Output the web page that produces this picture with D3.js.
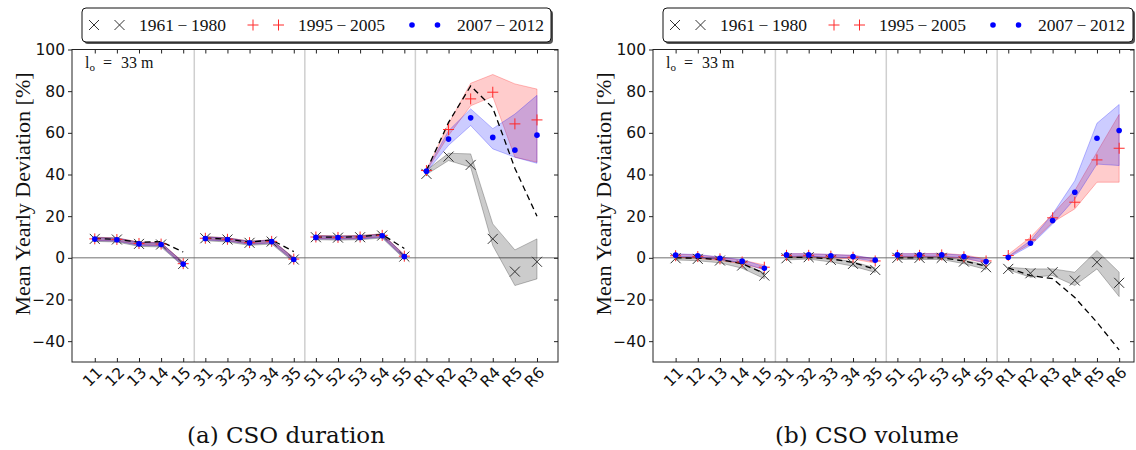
<!DOCTYPE html>
<html>
<head>
<meta charset="utf-8">
<script src="https://cdn.jsdelivr.net/npm/d3@7"></script>
<style>
  body { margin: 0; background: #fff; }
  svg { display: block; }
</style>
</head>
<body>
<script>
// Catchment labels along the x axis, split into four groups
const categories = ["11","12","13","14","15","31","32","33","34","35",
                    "51","52","53","54","55","R1","R2","R3","R4","R5","R6"];
const groupSizes = [5, 5, 5, 6];
const yTicks = [-40, -20, 0, 20, 40, 60, 80, 100];
const seriesNames = ["1961\u2009\u2212\u20091980", "1995\u2009\u2212\u20092005", "2007\u2009\u2212\u20092012"];

// (a) CSO duration, mean yearly deviation [%]
const dur1961   = [9.1, 8.8, 6.7, 6.4, -2.9, 9.4, 8.8, 7.2, 7.8, -0.8, 9.9, 9.7, 9.9, 10.7, 0.6, 40.3, 48.6, 44.6, 9.1, -6.6, -1.9];
const dur1961Lo = [7.9, 7.6, 5.5, 5.2, -4.1, 8.2, 7.6, 6.0, 6.6, -2.0, 8.7, 8.5, 8.7, 9.5, -0.6, 40.0, 46.7, 43.5, 5.9, -13.3, -10.1];
const dur1961Hi = [9.9, 9.6, 7.5, 7.2, -2.1, 10.2, 9.6, 8.0, 8.6, 0.0, 10.7, 10.5, 10.7, 11.5, 1.4, 42.0, 50.2, 49.9, 16.3, 3.8, 9.1];
const dur1995   = [9.1, 8.8, 6.9, 6.6, -2.8, 9.4, 8.9, 7.3, 7.9, -0.6, 10.0, 9.8, 10.0, 10.8, 0.8, 41.9, 61.6, 76.3, 79.5, 64.3, 66.2];
const dur1995Lo = [8.4, 8.1, 6.2, 5.9, -3.5, 8.7, 8.2, 6.6, 7.2, -1.3, 9.3, 9.1, 9.3, 10.1, 0.1, 41.6, 58.7, 73.0, 77.4, 48.3, 45.9];
const dur1995Hi = [9.8, 9.5, 7.6, 7.3, -2.1, 10.1, 9.6, 8.0, 8.6, 0.1, 10.7, 10.5, 10.7, 11.5, 1.5, 42.2, 64.3, 83.8, 88.0, 83.5, 81.0];
const dur2007   = [9.0, 8.7, 6.7, 6.4, -3.0, 9.3, 8.8, 7.2, 7.8, -0.8, 9.8, 9.7, 9.8, 10.6, 0.6, 41.6, 57.0, 67.2, 57.8, 51.7, 58.9];
const dur2007Lo = [8.3, 8.0, 6.0, 5.7, -3.7, 8.6, 8.1, 6.5, 7.1, -1.5, 9.1, 9.0, 9.1, 9.9, -0.1, 41.3, 54.0, 63.5, 52.3, 48.3, 45.4];
const dur2007Hi = [9.7, 9.4, 7.4, 7.1, -2.3, 10.0, 9.5, 7.9, 8.5, -0.1, 10.5, 10.4, 10.5, 11.3, 1.3, 41.9, 61.0, 71.5, 62.0, 69.0, 78.0];
const durModel  = [9.3, 8.9, 7.5, 7.8, 2.8, 9.5, 9.0, 7.5, 8.6, 3.0, 10.0, 9.9, 10.1, 11.2, 4.5, 41.9, 65.0, 82.5, 72.0, 43.0, 20.0];

// (b) CSO volume, mean yearly deviation [%]
const vol1961   = [-0.2, -0.5, -1.3, -3.7, -8.5, -0.2, 0.3, -1.0, -2.9, -5.8, 0.0, 0.0, 0.0, -1.8, -4.5, -5.3, -7.4, -6.9, -10.9, -2.1, -12.0];
const vol1961Lo = [-1.0, -1.4, -2.4, -5.0, -10.0, -1.0, -0.6, -2.0, -4.0, -7.0, -0.8, -0.8, -0.8, -2.8, -5.6, -5.8, -9.3, -8.5, -13.3, -5.3, -18.6];
const vol1961Hi = [0.4, 0.2, -0.5, -2.6, -7.2, 0.5, 0.9, -0.2, -1.9, -4.8, 0.6, 0.6, 0.6, -1.0, -3.5, -4.5, -5.3, -5.3, -6.9, 3.5, -6.9];
const vol1995   = [1.0, 0.6, -0.5, -2.0, -4.5, 1.2, 1.2, 0.8, 0.3, -1.5, 1.2, 1.2, 1.4, 0.5, -1.5, 1.1, 8.6, 19.2, 26.7, 47.0, 52.6];
const vol1995Lo = [0.2, -0.2, -1.3, -2.9, -5.6, 0.4, 0.4, 0.0, -0.6, -2.5, 0.4, 0.4, 0.6, -0.4, -2.5, 0.5, 6.7, 17.0, 23.5, 36.3, 36.3];
const vol1995Hi = [1.8, 1.4, 0.3, -1.1, -3.4, 2.0, 2.0, 1.6, 1.2, -0.5, 2.0, 2.0, 2.2, 1.4, -0.5, 1.6, 9.9, 21.0, 32.3, 50.7, 68.8];
const vol2007   = [1.3, 1.0, -0.2, -1.6, -5.0, 1.4, 1.4, 1.0, 0.6, -1.1, 1.4, 1.4, 1.4, 0.6, -1.8, 0.3, 7.0, 17.9, 31.5, 57.4, 61.1];
const vol2007Lo = [0.7, 0.4, -0.8, -2.3, -5.8, 0.8, 0.8, 0.4, 0.0, -1.8, 0.8, 0.8, 0.8, 0.0, -2.5, 0.0, 5.9, 16.3, 28.3, 45.0, 44.3];
const vol2007Hi = [1.9, 1.6, 0.4, -0.9, -4.2, 2.0, 2.0, 1.6, 1.2, -0.4, 2.0, 2.0, 2.0, 1.2, -1.1, 0.6, 8.3, 21.0, 37.0, 64.6, 73.6];
const volModel  = [0.0, -0.2, -0.8, -2.8, -7.5, 0.3, 0.2, -0.5, -2.2, -5.5, 0.0, 0.0, 0.0, -1.5, -4.0, -4.8, -8.5, -10.0, -19.0, -31.0, -44.2];

const W = 1136, H = 450;
const svg = d3.select("body").append("svg").attr("width", W).attr("height", H);

const serif = "'Liberation Serif', 'Times New Roman', serif";
const sans = "'DejaVu Sans', sans-serif";
const plotTop = 49.5, plotBottom = 362;
const y = d3.scaleLinear().domain([-50, 100]).range([plotBottom, plotTop]);

// index ranges for the four catchment groups
const groups = [];
groupSizes.reduce((s, n) => { groups.push(d3.range(s, s + n)); return s + n; }, 0);

const xPath = "M-5,-5L5,5M-5,5L5,-5";
const plusPath = "M-5.5,0L5.5,0M0,-5.5L0,5.5";

function drawMarker(g, kind, cx, cy) {
  if (kind === 0) {
    g.append("path").attr("d", xPath).attr("transform", `translate(${cx},${cy})`)
      .attr("fill", "none").attr("stroke", "#333").attr("stroke-width", 1);
  } else if (kind === 1) {
    g.append("path").attr("d", plusPath).attr("transform", `translate(${cx},${cy})`)
      .attr("fill", "none").attr("stroke", "#ff2a2a").attr("stroke-width", 1);
  } else {
    g.append("circle").attr("cx", cx).attr("cy", cy).attr("r", 2.8).attr("fill", "#0000ff");
  }
}

function drawPanel(p) {
  const x = d3.scaleLinear().domain(p.domain).range([p.left, p.right]);
  const g = svg.append("g");

  // group separators and zero line
  [4.5, 9.5, 14.5].forEach(v => {
    g.append("line").attr("x1", x(v)).attr("x2", x(v)).attr("y1", plotTop).attr("y2", plotBottom)
      .attr("stroke", "#cfcfcf").attr("stroke-width", 1.5);
  });
  g.append("line").attr("x1", p.left).attr("x2", p.right).attr("y1", y(0)).attr("y2", y(0))
    .attr("stroke", "#707070").attr("stroke-width", 1);

  // uncertainty bands, drawn group by group
  const bandColors = ["#000000", "#ff0000", "#0000ff"];
  p.series.forEach((s, k) => {
    const area = d3.area().x(i => x(i)).y0(i => y(s.lo[i])).y1(i => y(s.hi[i]));
    groups.forEach(idx => {
      g.append("path").attr("d", area(idx))
        .attr("fill", bandColors[k]).attr("fill-opacity", 0.2)
        .attr("stroke", bandColors[k]).attr("stroke-opacity", 0.25).attr("stroke-width", 1);
    });
  });

  // dashed reference curve
  const line = d3.line().x(i => x(i)).y(i => y(p.model[i]));
  groups.forEach(idx => {
    g.append("path").attr("d", line(idx)).attr("fill", "none")
      .attr("stroke", "#000").attr("stroke-width", 1.3).attr("stroke-dasharray", "6,4");
  });

  // point markers
  p.series.forEach((s, k) => {
    s.val.forEach((v, i) => drawMarker(g, k, x(i), y(v)));
  });

  // frame
  g.append("rect").attr("x", p.left).attr("y", plotTop).attr("width", p.right - p.left)
    .attr("height", plotBottom - plotTop).attr("fill", "none").attr("stroke", "#222").attr("stroke-width", 1);

  // y axis with labels, plus inner ticks on the right
  const yAx = g.append("g").attr("transform", `translate(${p.left},0)`)
    .call(d3.axisLeft(y).tickValues(yTicks).tickSize(4).tickPadding(3));
  yAx.select(".domain").remove();
  yAx.selectAll("line").attr("stroke", "#222");
  yAx.selectAll("text").attr("font-family", sans).attr("font-size", 15.5).attr("fill", "#111");
  const yAxR = g.append("g").attr("transform", `translate(${p.right},0)`)
    .call(d3.axisLeft(y).tickValues(yTicks).tickSize(4).tickFormat(""));
  yAxR.select(".domain").remove();
  yAxR.selectAll("line").attr("stroke", "#222");

  // x ticks inside top and bottom
  const idxAll = d3.range(categories.length);
  const xTop = g.append("g").attr("transform", `translate(0,${plotTop})`)
    .call(d3.axisBottom(x).tickValues(idxAll).tickSize(4).tickFormat(""));
  xTop.select(".domain").remove();
  xTop.selectAll("line").attr("stroke", "#222");
  const xBot = g.append("g").attr("transform", `translate(0,${plotBottom})`)
    .call(d3.axisTop(x).tickValues(idxAll).tickSize(4).tickFormat(""));
  xBot.select(".domain").remove();
  xBot.selectAll("line").attr("stroke", "#222");

  // rotated category labels
  g.selectAll("text.cat").data(categories).enter().append("text")
    .attr("class", "cat")
    .attr("transform", (d, i) => `translate(${x(i) + 5},${plotBottom + 8}) rotate(-45)`)
    .attr("text-anchor", "end").attr("dominant-baseline", "central")
    .attr("font-family", sans).attr("font-size", 15.5).attr("fill", "#111")
    .text(d => d);

  // y axis title
  g.append("text")
    .attr("transform", `translate(${p.yTitleX},194) rotate(-90)`)
    .attr("text-anchor", "middle").attr("dominant-baseline", "central")
    .attr("font-family", serif).attr("font-size", 22).attr("fill", "#111")
    .text("Mean Yearly Deviation [%]");

  // l_o annotation
  const ann = g.append("text").attr("font-family", serif).attr("font-size", 16).attr("fill", "#111");
  ann.append("tspan").attr("x", p.left + 13).attr("y", 68).text("l");
  ann.append("tspan").attr("x", p.left + 17.5).attr("y", 71).attr("font-size", 11).text("o");
  ann.append("tspan").attr("x", p.left + 31).attr("y", 68).text("=");
  ann.append("tspan").attr("x", p.left + 49).attr("y", 68).text("33 m");

  // legend box with drop shadow
  const lg = g.append("g").attr("transform", `translate(${p.legendX},8)`);
  const lw = p.legendW, lh = 34;
  lg.append("rect").attr("x", 2).attr("y", 2).attr("width", lw).attr("height", lh)
    .attr("rx", 4).attr("fill", "#555");
  lg.append("rect").attr("x", 0).attr("y", 0).attr("width", lw).attr("height", lh)
    .attr("rx", 4).attr("fill", "#fff").attr("stroke", "#111").attr("stroke-width", 1);
  const itemX = [0, 159, 318];
  seriesNames.forEach((name, k) => {
    const ox = 12 + itemX[k];
    drawMarker(lg, k, ox, 17);
    drawMarker(lg, k, ox + 25.5, 17);
    lg.append("text").attr("x", ox + 45).attr("y", 17).attr("dominant-baseline", "central")
      .attr("font-family", serif).attr("font-size", 17.5).attr("fill", "#111").text(name);
  });

  // caption
  svg.append("text").attr("x", p.captionX).attr("y", 443).attr("text-anchor", "middle")
    .attr("font-family", "'DejaVu Serif', serif").attr("font-size", 23).attr("fill", "#111")
    .text(p.caption);
}

drawPanel({
  left: 72, right: 558, domain: [-1.03, 20.95],
  yTitleX: 22, legendX: 82, legendW: 469, captionX: 286,
  caption: "(a) CSO duration",
  model: durModel,
  series: [
    { val: dur1961, lo: dur1961Lo, hi: dur1961Hi },
    { val: dur1995, lo: dur1995Lo, hi: dur1995Hi },
    { val: dur2007, lo: dur2007Lo, hi: dur2007Hi }
  ]
});

drawPanel({
  left: 653, right: 1134, domain: [-1.02, 20.67],
  yTitleX: 603, legendX: 663, legendW: 470, captionX: 867,
  caption: "(b) CSO volume",
  model: volModel,
  series: [
    { val: vol1961, lo: vol1961Lo, hi: vol1961Hi },
    { val: vol1995, lo: vol1995Lo, hi: vol1995Hi },
    { val: vol2007, lo: vol2007Lo, hi: vol2007Hi }
  ]
});
</script>
</body>
</html>
